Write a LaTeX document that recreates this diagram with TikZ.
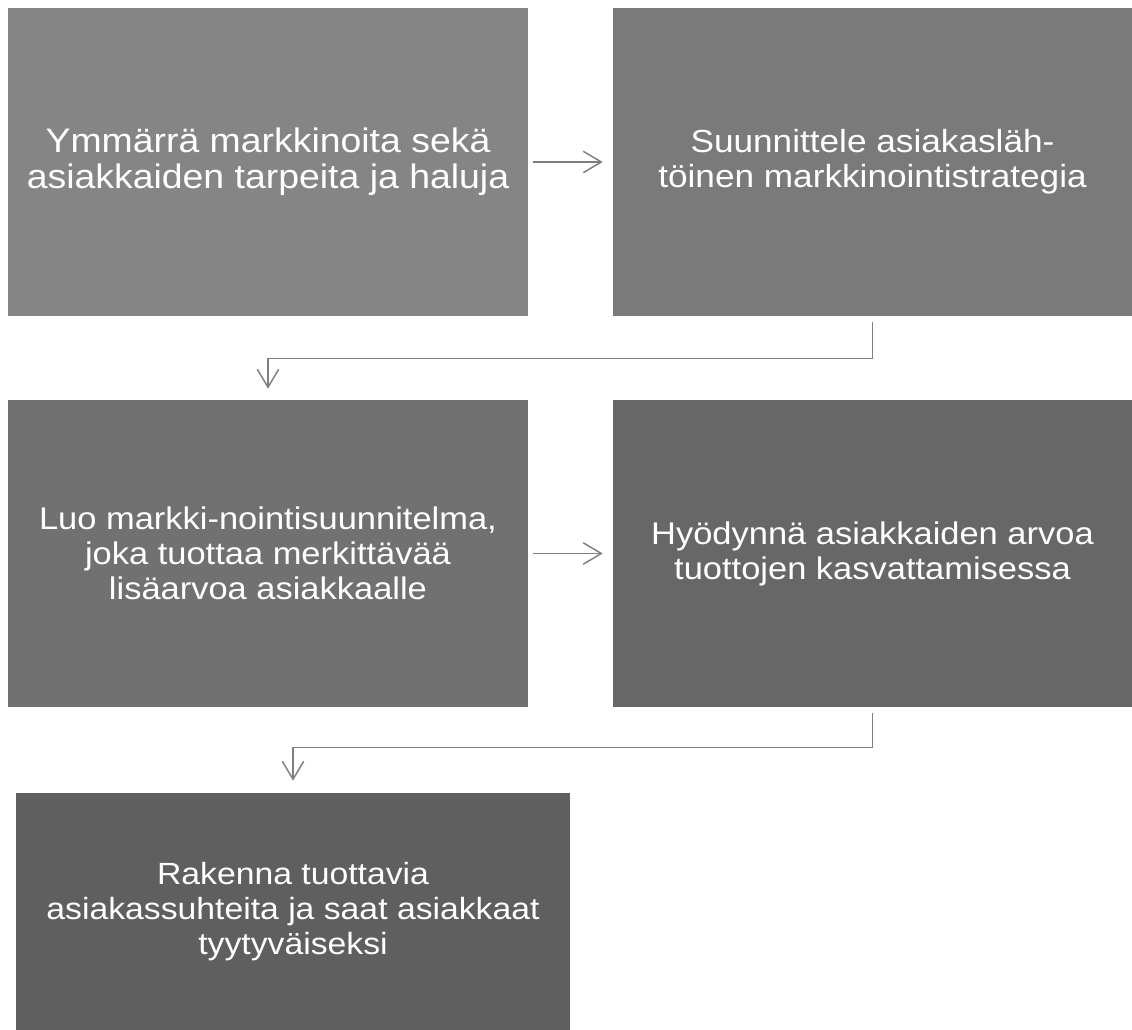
\documentclass[tikz,border=0pt]{standalone}
\usepackage{fontspec}
\setmainfont{Liberation Sans}[FakeStretch=1.1]
\usepackage{tikz}
\usetikzlibrary{arrows.meta,calc}

\definecolor{boxA}{HTML}{858585}
\definecolor{boxB}{HTML}{7A7A7A}
\definecolor{boxC}{HTML}{717171}
\definecolor{boxD}{HTML}{676767}
\definecolor{boxE}{HTML}{5F5F5F}
\definecolor{linkgray}{HTML}{7F7F7F}

\tikzset{
  stagebox/.style={draw=none, inner sep=0pt, text=white, align=center,
    font=\fontsize{25.5pt}{27pt}\selectfont,
    minimum width=390pt, minimum height=231pt},
  smalltext/.style={font=\fontsize{#1}{26.25pt}\selectfont},
  flowarrow/.style={draw=linkgray, line width=1.1pt,
    -{Straight Barb[length=13.5pt,width=16pt]}}
}

\begin{document}
\begin{tikzpicture}[x=0.75pt,y=0.75pt,yscale=-1,xscale=1]
\useasboundingbox (0,0) rectangle (1132,1030);

% Boxes
\node [stagebox, fill=boxA] (ymmarra) at (268,162) {Ymmärrä markkinoita sekä\\asiakkaiden tarpeita ja haluja};
\node [stagebox, fill=boxB, smalltext=24pt, minimum width=389.25pt] (suunnittele) at (872.5,162) {Suunnittele asiakasläh-\\töinen markkinointistrategia};
\node [stagebox, fill=boxC, smalltext=23.5pt, minimum height=230.25pt] (luo) at (268,553.5) {Luo markki-nointisuunnitelma,\\joka tuottaa merkittävää\\lisäarvoa asiakkaalle};
\node [stagebox, fill=boxD, smalltext=23.5pt, minimum width=389.25pt, minimum height=230.25pt] (hyodynna) at (872.5,553.5) {Hyödynnä asiakkaiden arvoa\\tuottojen kasvattamisessa};
\node [stagebox, fill=boxE, smalltext=23pt, minimum width=415.5pt, minimum height=177.75pt] (rakenna) at (293,911.5) {Rakenna tuottavia\\asiakassuhteita ja saat asiakkaat\\tyytyväiseksi};

% Connectors
\draw [flowarrow] ([xshift=3.75pt]ymmarra.east) -- ([xshift=-7.5pt]suunnittele.west);
\draw [flowarrow] ([xshift=3.75pt]luo.east) -- ([xshift=-7.5pt]hyodynna.west);
\draw [flowarrow] ([yshift=4.5pt]suunnittele.south) -- ++(0,36) -| ([yshift=-8.25pt]luo.north);
\draw [flowarrow] ([yshift=4.5pt]hyodynna.south) -- ++(0,34) -| ([yshift=-9pt]rakenna.north);

\end{tikzpicture}
\end{document}
